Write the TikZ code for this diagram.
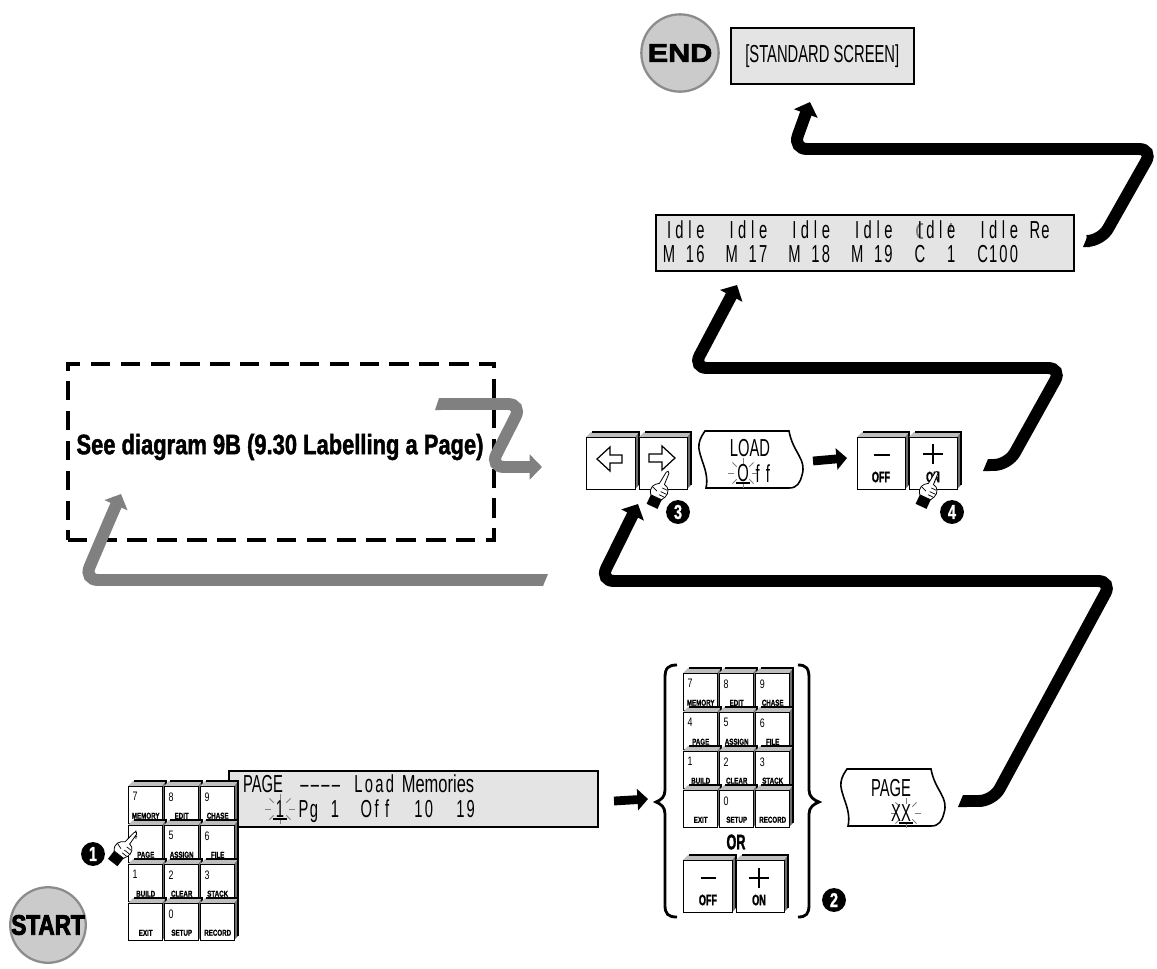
\documentclass[tikz,border=0pt]{standalone}
\usepackage{fontspec}
\usepackage{tikz}
\usetikzlibrary{arrows.meta,shapes.geometric}
\setmainfont{Liberation Sans}
\newfontfamily\lcdfont[FakeStretch=0.6]{Liberation Sans}
\newfontfamily\keyfont[FakeStretch=0.72]{Liberation Sans}
\newfontfamily\memfont[FakeStretch=0.67]{Liberation Sans}
\newfontfamily\heavyfont[FakeStretch=0.6,FakeBold=1.5]{Liberation Sans}
\newfontfamily\labelfont[FakeStretch=0.72,FakeBold=1]{Liberation Sans}
\newfontfamily\seefont[FakeStretch=0.78,FakeBold=1.5]{Liberation Sans}
\newfontfamily\widefont[FakeStretch=1.2,FakeBold=3]{Liberation Sans}
\newfontfamily\tightfont[FakeStretch=0.8,FakeBold=3]{Liberation Sans}
\definecolor{lcdgray}{RGB}{228,228,228}
\definecolor{bevellight}{RGB}{190,190,190}
\definecolor{beveldark}{RGB}{110,110,110}
\definecolor{ribbongray}{RGB}{128,128,128}
\definecolor{discgray}{RGB}{203,203,203}
\definecolor{rimgray}{RGB}{140,140,140}
\newlength\cellw
\setlength\cellw{5.95pt}
\makeatletter
\newcommand\lcdcells[1]{\@tfor\lcdch:=#1\do{\makebox[\cellw][c]{\lcdch}}}
\makeatother
\tikzset{
  lcdbox/.style={draw=black, fill=lcdgray, line width=0.9pt, inner sep=0pt, anchor=north west},
  lcdtext/.style={font=\lcdfont\fontsize{14}{15}\selectfont, inner sep=0pt, anchor=base west},
  lcdmid/.style={font=\lcdfont\fontsize{14}{15}\selectfont, inner sep=0pt},
  keyface/.style={draw=black, fill=white, line width=0.8pt, inner sep=0pt, anchor=north west},
  keynum/.style={font=\keyfont\fontsize{7}{8}\selectfont, inner sep=0pt, anchor=north west},
  keylab/.style={font=\labelfont\bfseries\fontsize{4.9}{5}\selectfont, inner sep=0pt, anchor=south},
  biglab/.style={font=\heavyfont\bfseries\fontsize{8.6}{9}\selectfont, inner sep=0pt},
  disc/.style={circle, draw=rimgray, fill=discgray, line width=1.3pt, minimum size=44pt, inner sep=0pt},
  bullet/.style={circle, fill=black, text=white, minimum size=13.6pt, inner sep=0pt, font=\labelfont\bfseries\fontsize{11.5}{12}\selectfont},
  ribbon/.style={black, line width=6.8pt, rounded corners=8pt, -{Triangle[length=7pt,width=14pt]}},
  greyribbon/.style={ribbon, ribbongray},
  shortarrow/.style={black, line width=5pt, -{Triangle[length=6pt,width=12pt]}},
  keymark/.style={black, line width=0.7pt},
  softshape/.style={draw=black, fill=white, line width=0.9pt}
}
% one key with its bevel: name, x, y, width, height
\newcommand\keycap[5]{
  \begin{scope}[shift={(#2,#3)}]
    \fill[beveldark] (#4,0) -- (#4+4,-5) -- (#4+4,#5-4) -- (#4,#5) -- cycle;
    \fill[bevellight] (0,0) -- (5,-5) -- (#4+4,-5) -- (#4,0) -- cycle;
    \draw[black, line width=1.2pt] (6,-5) -- (#4+4,-5) -- (#4+4,#5-4);
    \node[keyface, minimum width=#4*0.02cm, minimum height=#5*0.02cm] (#1) at (0,0) {};
  \end{scope}
}
% twelve keys
\newcommand\keypad[3]{
  \foreach \col/\row/\num/\lab in {0/0/7/MEMORY,1/0/8/EDIT,2/0/9/CHASE,0/1/4/PAGE,1/1/5/ASSIGN,2/1/6/FILE,0/2/1/BUILD,1/2/2/CLEAR,2/2/3/STACK,0/3//EXIT,1/3/0/SETUP,2/3//RECORD} {
    \keycap{#1\lab}{#2+36*\col}{#3+39*\row}{34}{37}
    \node[keynum] (#1\lab num) at ([xshift=2.5pt,yshift=-3.5pt]#1\lab.north west) {\num};
    \node[keylab] (#1\lab lab) at ([yshift=3pt]#1\lab.south) {\lab};
  }
}
% display field with the wavy sides
\newcommand\softkey[3]{
  \draw[softshape, shift={(#2,#3)}] (0,0) -- (84,0) .. controls (88,22) and (102,28) .. (97,44) .. controls (95,52) and (92,57) .. (84,57) -- (1,57) .. controls (5,40) and (-8,24) .. (-6,13) .. controls (-5,7) and (-2,3) .. (0,0) -- cycle;
  \coordinate (#1) at (#2+45,#3+28);
}
% flashing cursor
\newcommand\blinkmark[4]{
  \begin{scope}[shift={(#2,#3)}]
    \foreach \ang in {0,45,...,315} {
      \draw[gray, line width=0.45pt] (\ang:9) -- (\ang:15);
    }
    \node[lcdtext, anchor=base] (#1) at (0,8.5) {#4};
    \draw[black, line width=1.3pt] (-7,10) -- (7,10);
  \end{scope}
}
% pointing hand: name, x, y of the cuff, angle
\newcommand\handmark[4]{
  \begin{scope}[shift={(#2,#3)}, rotate=#4]
    \coordinate (#1) at (0,0);
    \fill[black] (-6,-3) rectangle (6,7);
    \draw[black, fill=white, line width=0.45pt] (-6,-3) .. controls (-11,-9) and (-8,-14) .. (-3,-17) -- (-1.6,-30) .. controls (-1,-32) and (1,-32) .. (1.4,-30) -- (2,-18) .. controls (7,-18) and (10,-12) .. (8,-7) .. controls (7,-5) and (6,-4) .. (6,-3) -- cycle;
    \draw[black, line width=0.4pt] (1.5,-14) -- (7,-14) (1.5,-10) -- (8,-10) (1.5,-6.5) -- (7,-6.5) (-8,-11) -- (-2,-9);
  \end{scope}
}
\begin{document}
\begin{tikzpicture}[x=0.02cm, y=-0.02cm]
\useasboundingbox (0,0) rectangle (1157,968);

% Standard screen at the top
\node[disc] (enddisc) at (680,53) {};
\node[font=\widefont\bfseries\fontsize{14.5}{15}\selectfont, inner sep=0pt] (endtext) at (enddisc) {END};
\node[lcdbox, minimum width=183*0.02cm, minimum height=56*0.02cm] (stdscreen) at (730,27) {};
\node[font=\lcdfont\fontsize{14}{15}\selectfont, inner sep=0pt] (stdtext) at (stdscreen) {[STANDARD SCREEN]};

% Idle display
\node[lcdbox, minimum width=418*0.02cm, minimum height=56*0.02cm] (idlelcd) at (655,214) {};
\draw[gray, line width=1.1pt] (923,224) .. controls (915,222) and (915,240) .. (923,238);
\draw[gray, line width=1pt] (951,223) -- (950,231);
\node[lcdtext] (idlerow) at (663.5,238) {\lcdcells{Idle~~Idle~~Idle~~Idle~~Idle~~Idle~Re}};
\node[lcdtext] (slotrow) at (663.5,262) {\lcdcells{M~16~~M~17~~M~18~~M~19~~C~~1~~C100}};

% Dashed box
\node[draw=black, dash pattern=on 11pt off 6pt, line width=2pt, minimum width=426*0.02cm, minimum height=176*0.02cm, inner sep=0pt, anchor=north west] (seebox) at (66,362) {};
\node[font=\seefont\bfseries\fontsize{16}{17}\selectfont, inner sep=0pt] (seetext) at (280,447) {See diagram 9B (9.30 Labelling a Page)};

% Arrow keys and load field
\keycap{leftkey}{586}{437}{49}{52}
\keycap{rightkey}{639}{437}{48}{52}
\draw[keymark, fill=white] (597,459) -- (610,447) -- (610,455) -- (622,455) -- (622,463) -- (610,463) -- (610,471) -- cycle;
\draw[keymark, fill=white] (675,458) -- (662,446) -- (662,454) -- (649,454) -- (649,462) -- (662,462) -- (662,470) -- cycle;
\softkey{loadfield}{705}{431}
\node[lcdmid] (loadtext) at (750,448) {LOAD};
\blinkmark{loadblink}{743}{473}{O}
\node[lcdtext] (loadoff) at (752,482) {\lcdcells{ff}};
\keycap{offkeyA}{857}{437}{48}{52}
\keycap{onkeyA}{909}{437}{48}{52}
\draw[keymark] (874,455) -- (890,455);
\draw[keymark] (923,454) -- (943,454) (933,444) -- (933,464);
\node[biglab] (offlabA) at (881,477) {OFF};
\node[biglab] (onlabA) at (933,477) {ON};

% Page display and first keypad
\node[lcdbox, minimum width=369*0.02cm, minimum height=56*0.02cm] (pagelcd) at (228,770) {};
\node[lcdmid, anchor=base] (pagehead) at (263,792) {PAGE};
\node[lcdtext] (pagedash) at (299,792) {\lcdcells{––––}};
\node[lcdtext] (pageload) at (353,792) {\lcdcells{Load}};
\node[font=\memfont\fontsize{14}{15}\selectfont, inner sep=0pt, anchor=base] (pagemem) at (438,792) {Memories};
\blinkmark{pageblink}{280}{809}{1}
\node[lcdtext] (pagerow) at (298,817) {\lcdcells{Pg~1~~Off~~10~~19}};
\keypad{padA}{128}{786}

% Second keypad with its brackets
\keypad{padB}{683}{673}
\node[font=\heavyfont\bfseries\fontsize{12}{13}\selectfont, inner sep=0pt] (ortext) at (736,842) {OR};
\keycap{offkeyB}{683}{860}{49}{52}
\keycap{onkeyB}{736}{860}{48}{52}
\draw[keymark] (701,878) -- (716,878);
\draw[keymark] (749,878) -- (769,878) (759,868) -- (759,888);
\node[biglab] (offlabB) at (708,900) {OFF};
\node[biglab] (onlabB) at (759,900) {ON};
\draw[black, line width=1.6pt] (677,665) .. controls (668,665) and (665,668) .. (665,678) -- (665,790) .. controls (665,797) and (661,800) .. (656,802) .. controls (661,804) and (665,807) .. (665,814) -- (665,905) .. controls (665,914) and (668,917) .. (677,917);
\draw[black, line width=1.6pt] (798,665) .. controls (806,665) and (809,668) .. (809,678) -- (809,790) .. controls (809,797) and (814,800) .. (819,802) .. controls (814,804) and (809,807) .. (809,814) -- (809,905) .. controls (809,914) and (806,917) .. (798,917);

% Page field
\softkey{pagefield}{847}{769}
\node[lcdmid] (pagetext) at (891,788) {PAGE};
\blinkmark{pagexblink}{906}{813}{X}
\node[lcdtext, anchor=base] (pagex) at (896,821) {X};

% Free ends of the ribbons
\coordinate (pageout) at (966,801);
\coordinate (rightin) at (638,504);
\coordinate (onout) at (989,465);
\coordinate (idlein) at (737,285);
\coordinate (idleout) at (1089,241);
\coordinate (stdin) at (810,102);
\coordinate (seeout) at (440,404);
\coordinate (leftout) at (543,580);
\coordinate (seein) at (121,494);
\coordinate (rightout) at (542,467);

% Black ribbons
\draw[ribbon] (pageout) -- (993,801) -- (1112,581) -- (600,581) -- (rightin);
\fill[black] (958,807) -- (963,795) -- (967,795) -- (967,807) -- cycle;
\draw[ribbon] (onout) -- (1008,465) -- (1062,368) -- (693,368) -- (idlein);
\fill[black] (983,471) -- (988,459) -- (990,459) -- (990,471) -- cycle;
\draw[ribbon] (idleout) -- (1101,241) -- (1153,149) -- (793,149) -- (stdin);
\fill[black] (1083,247) -- (1088,235) -- (1090,235) -- (1090,247) -- cycle;

% Grey ribbons
\draw[greyribbon] (seeout) -- (522,404) -- (490,467) -- (rightout);
\fill[ribbongray] (435,410) -- (439,398) -- (441,398) -- (441,410) -- cycle;
\draw[greyribbon] (leftout) -- (84,580) -- (113,512) -- (seein);
\fill[ribbongray] (542,574) -- (548,574) -- (543,586) -- (542,586) -- cycle;

% Short arrows
\coordinate (lcdout) at (614,801);
\coordinate (padin) at (648,799);
\coordinate (loadout) at (813,461);
\coordinate (offin) at (847,458);
\draw[shortarrow] (lcdout) -- (padin);
\draw[shortarrow] (loadout) -- (offin);

% Hands and numbers
\handmark{handone}{117}{857}{-38}
\handmark{handthree}{655}{500}{-25}
\handmark{handfour}{924}{500}{-25}
\node[bullet] (stepone) at (93,854) {1};
\node[bullet] (steptwo) at (834,900) {2};
\node[bullet] (stepthree) at (678,512) {3};
\node[bullet] (stepfour) at (952,512) {4};

% Start
\node[disc, minimum size=43pt] (startdisc) at (48,925) {};
\node[font=\tightfont\bfseries\fontsize{16}{17}\selectfont, inner sep=0pt] (starttext) at (startdisc) {START};
\end{tikzpicture}
\end{document}
